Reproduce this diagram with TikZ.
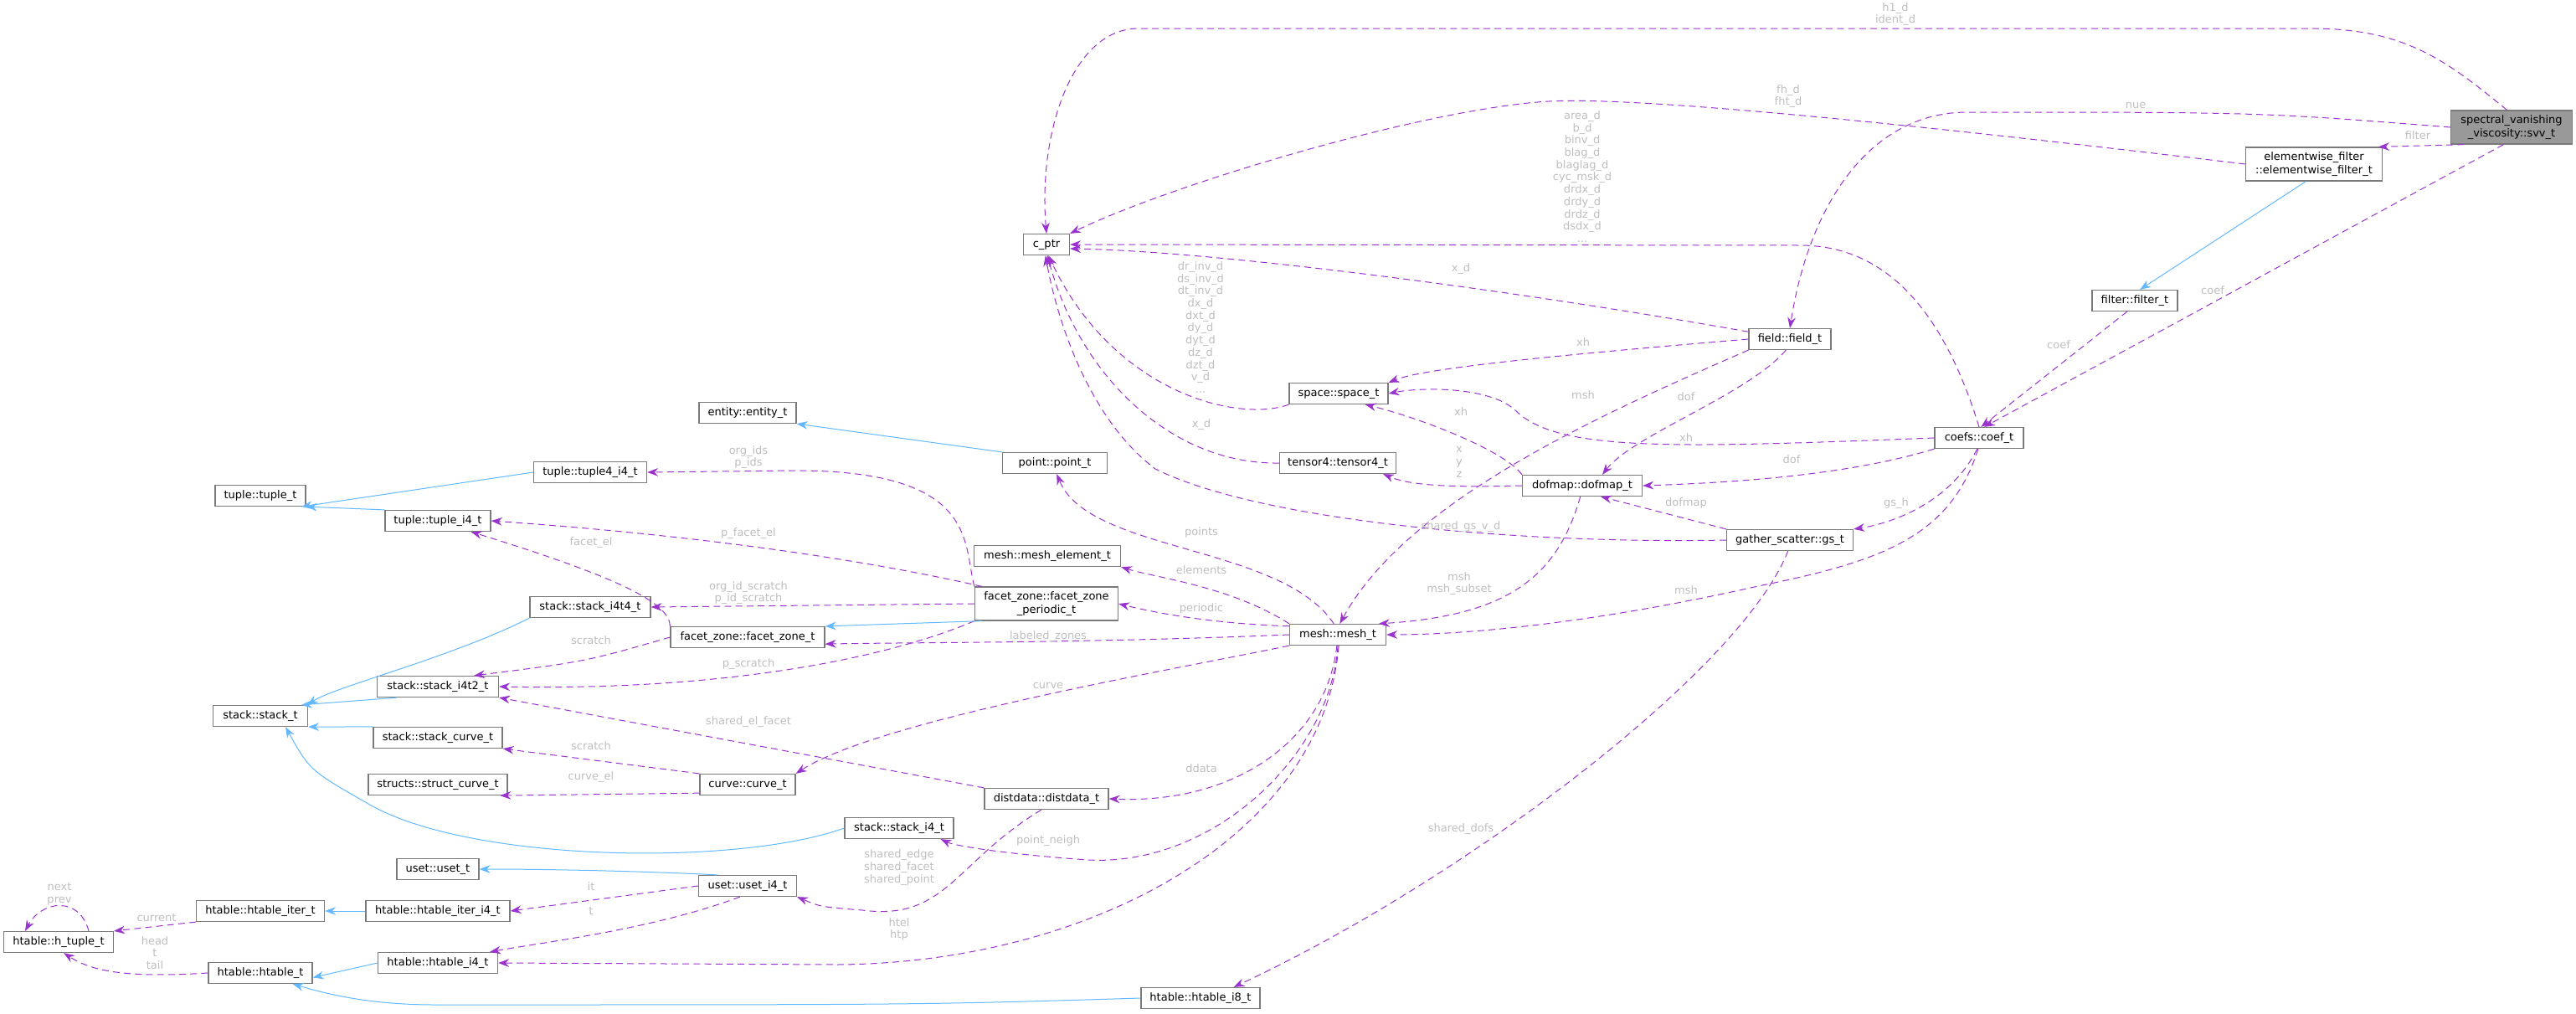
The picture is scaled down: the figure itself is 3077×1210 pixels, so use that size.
\documentclass[tikz,border=0pt]{standalone}
\usepackage{fontspec}
\setmainfont{DejaVu Sans}
\usetikzlibrary{arrows.meta}
\definecolor{dep}{HTML}{9A32CD}
\definecolor{inh}{HTML}{63B8FF}
\definecolor{lbl}{HTML}{BEBEBE}
\definecolor{bord}{HTML}{7A7A7A}
\begin{document}
\begin{tikzpicture}[x=0.5pt,y=-0.5pt,
  box/.style={draw=bord,line width=0.6pt,fill=white,inner sep=0pt,minimum height=12.5pt,align=center,font=\fontsize{6.5}{7.6}\selectfont},
  w/.style={minimum width=#1*0.5pt},
  dbl/.style={minimum height=20pt},
  dep/.style={draw=dep,line width=0.5pt,dash pattern=on 4pt off 2.6pt,-{Stealth[length=6.5pt,width=4.8pt,fill=dep]}},
  inh/.style={draw=inh,line width=0.5pt,-{Stealth[length=6.5pt,width=4.8pt,fill=inh]}},
  lb/.style={text=lbl,inner sep=0pt,align=center,font=\fontsize{6.5}{7.35}\selectfont}]
\useasboundingbox (0,0) rectangle (3077,1210);
% nodes
\node[box,w=145,dbl,fill=black!40] (svv) at (3000,152) {spectral\_vanishing\\\_viscosity::svv\_t};
\node[box,w=163,dbl] (ewf) at (2764,196) {elementwise\_filter\\::elementwise\_filter\_t};
\node[box,w=102] (filter) at (2550,359) {filter::filter\_t};
\node[box,w=106] (coef) at (2364,523) {coefs::coef\_t};
\node[box,w=55] (cptr) at (1250,292) {c\_ptr};
\node[box,w=98] (field) at (2138,405) {field::field\_t};
\node[box,w=118] (space) at (1599,470) {space::space\_t};
\node[box,w=139] (tensor) at (1598,553) {tensor4::tensor4\_t};
\node[box,w=143] (dofmap) at (1890,580) {dofmap::dofmap\_t};
\node[box,w=151] (gs) at (2138,645) {gather\_scatter::gs\_t};
\node[box,w=115] (mesh) at (1598,758) {mesh::mesh\_t};
\node[box,w=116] (entity) at (893,493) {entity::entity\_t};
\node[box,w=125] (point) at (1260,553) {point::point\_t};
\node[box,w=135] (tuplefour) at (705,564) {tuple::tuple4\_i4\_t};
\node[box,w=108] (tuple) at (311,592) {tuple::tuple\_t};
\node[box,w=126] (tuplei) at (523,622) {tuple::tuple\_i4\_t};
\node[box,w=175] (melem) at (1251,664) {mesh::mesh\_element\_t};
\node[box,w=171,dbl] (fzp) at (1250,721) {facet\_zone::facet\_zone\\\_periodic\_t};
\node[box,w=144] (sfour) at (705,725) {stack::stack\_i4t4\_t};
\node[box,w=184] (fz) at (893,761) {facet\_zone::facet\_zone\_t};
\node[box,w=145] (stwo) at (523,820) {stack::stack\_i4t2\_t};
\node[box,w=113] (stack) at (311,855) {stack::stack\_t};
\node[box,w=154] (scurve) at (523,881) {stack::stack\_curve\_t};
\node[box,w=166] (structc) at (523,937) {structs::struct\_curve\_t};
\node[box,w=114] (curve) at (893,937) {curve::curve\_t};
\node[box,w=148] (dist) at (1250,954) {distdata::distdata\_t};
\node[box,w=130] (si) at (1074,989) {stack::stack\_i4\_t};
\node[box,w=98] (uset) at (523,1038) {uset::uset\_t};
\node[box,w=117] (useti) at (893,1058) {uset::uset\_i4\_t};
\node[box,w=153] (hiter) at (311,1088) {htable::htable\_iter\_t};
\node[box,w=172] (hiteri) at (523,1088) {htable::htable\_iter\_i4\_t};
\node[box,w=131] (htuple) at (70,1125) {htable::h\_tuple\_t};
\node[box,w=143] (hti) at (523,1150) {htable::htable\_i4\_t};
\node[box,w=124] (ht) at (311,1162) {htable::htable\_t};
\node[box,w=142] (hteight) at (1434,1192) {htable::htable\_i8\_t};
% dependency edges
\draw[dep] (svv.105) .. controls (2920,70) and (2870,34) .. (2760,34) -- (1360,34) .. controls (1280,34) and (1240,160) .. (cptr.north);
\draw[dep] (ewf.west) .. controls (2300,150) and (1960,115) .. (1850,121) .. controls (1700,130) and (1400,220) .. (cptr.north east);
\draw[dep] (svv.west) .. controls (2700,134) .. (2350,134) .. controls (2230,134) and (2160,250) .. (field.north);
\draw[dep] (svv.200) -- (ewf.15);
\draw[dep] (svv.245) -- (coef.65);
\draw[dep] (filter.235) -- (coef.80);
\draw[dep] (coef.north) .. controls (2330,400) and (2270,293) .. (2150,293) -- (cptr.east);
\draw[dep] (field.170) .. controls (1800,345) and (1450,300) .. (cptr.-10);
\draw[dep] (field.west) .. controls (1850,425) and (1700,440) .. (space.north east);
\draw[dep] (field.south west) .. controls (1900,500) and (1680,600) .. (mesh.80);
\draw[dep] (field.-110) .. controls (2090,470) and (1950,520) .. ([xshift=12]dofmap.north);
\draw[dep] (space.south west) .. controls (1480,505) and (1330,470) .. (cptr.-80);
\draw[dep] (tensor.west) .. controls (1400,555) and (1290,450) .. (cptr.-85);
\draw[dep] (gs.west) .. controls (1800,650) and (1500,620) .. (1380,560) .. controls (1300,500) and (1262,380) .. (cptr.-95);
\draw[dep] (coef.west) .. controls (2000,535) and (1860,540) .. (1810,490) .. controls (1780,462) and (1700,462) .. (space.east);
\draw[dep] (coef.south west) .. controls (2200,570) and (2050,577) .. (dofmap.east);
\draw[dep] (coef.-100) .. controls (2330,600) and (2260,625) .. (gs.north east);
\draw[dep] (coef.-95) .. controls (2330,640) and (2250,670) .. (2100,700) .. controls (1900,745) and (1750,758) .. (mesh.east);
\draw[dep] (dofmap.north west) .. controls (1800,540) and (1700,500) .. ([xshift=-14]space.south east);
\draw[dep] (dofmap.west) .. controls (1720,583) and (1680,578) .. ([xshift=-8]tensor.south east);
\draw[dep] (dofmap.-100) .. controls (1860,690) and (1800,735) .. (mesh.15);
\draw[dep] (gs.north west) -- ([xshift=-25]dofmap.south east);
\draw[dep] (gs.-100) .. controls (2080,800) and (1750,1050) .. ([xshift=-16]hteight.north east);
\draw[dep] (mesh.110) .. controls (1530,650) and (1300,660) .. (point.-80);
\draw[dep] (mesh.north west) .. controls (1470,700) and (1380,690) .. (melem.south east);
\draw[dep] (mesh.170) .. controls (1450,745) and (1380,732) .. (fzp.east);
\draw[dep] (mesh.west) .. controls (1300,768) and (1100,767) .. (fz.-5);
\draw[dep] (mesh.south west) .. controls (1400,800) and (1050,860) .. (curve.north east);
\draw[dep] (mesh.-95) .. controls (1585,880) and (1480,960) .. (dist.east);
\draw[dep] (mesh.-90) .. controls (1590,900) and (1450,1035) .. (1300,1027) .. controls (1200,1020) and (1140,1010) .. ([xshift=-8]si.south east);
\draw[dep] (mesh.-85) .. controls (1580,1000) and (1300,1150) .. (1000,1152) -- (hti.east);
\draw[dep] (fzp.north west) .. controls (1150,650) and (1170,562) .. (950,562) -- (tuplefour.east);
\draw[dep] (fzp.165) .. controls (950,650) and (700,630) .. (tuplei.east);
\draw[dep] (fzp.west) -- (sfour.east);
\draw[dep] (fzp.south west) .. controls (1050,790) and (850,825) .. (stwo.east);
\draw[dep] (fz.north west) .. controls (800,720) and (740,690) .. ([xshift=-12]tuplei.south east);
\draw[dep] (fz.west) .. controls (700,790) .. ([xshift=-15]stwo.north east);
\draw[dep] (dist.north west) -- (stwo.south east);
\draw[dep] (dist.-115) .. controls (1140,1030) and (1130,1100) .. (1030,1087) .. controls (980,1083) .. (useti.south east);
\draw[dep] (curve.north west) -- (scurve.south east);
\draw[dep] (curve.-170) -- (structc.-10);
\draw[dep] (useti.west) -- (hiteri.east);
\draw[dep] (useti.-125) .. controls (780,1110) and (650,1125) .. ([xshift=-5]hti.north east);
\draw[dep] (hiter.south west) -- (htuple.north east);
\draw[dep] ([xshift=18]htuple.north) .. controls (95,1070) and (50,1075) .. ([xshift=-20]htuple.north);
\draw[dep] (ht.west) .. controls (150,1168) and (110,1160) .. (htuple.-65);
% inheritance
\draw[inh] (ewf.-115) -- (filter.65);
\draw[inh] (point.north west) -- (entity.south east);
\draw[inh] (tuplefour.west) -- (tuple.-15);
\draw[inh] (tuplei.north west) -- (tuple.south east);
\draw[inh] (fzp.195) -- (fz.north east);
\draw[inh] (sfour.south west) .. controls (540,785) and (400,820) .. ([xshift=28]stack.north);
\draw[inh] (stwo.-165) -- (stack.15);
\draw[inh] (scurve.north west) -- (stack.south east);
\draw[inh] (si.west) .. controls (880,1035) and (560,1030) .. (440,960) .. controls (370,920) .. ([xshift=15]stack.south);
\draw[inh] (useti.160) .. controls (760,1040) and (650,1038) .. (uset.east);
\draw[inh] (hiteri.west) -- (hiter.east);
\draw[inh] (hti.west) -- (ht.-5);
\draw[inh] (hteight.west) .. controls (1100,1200) .. (520,1200) .. controls (450,1200) and (400,1190) .. ([xshift=-12]ht.south east);
% labels
\node[lb] (l1) at (2264,17) {h1\_d\\ident\_d};
\node[lb] (l2) at (2136,115) {fh\_d\\fht\_d};
\node[lb] (l3) at (2551,126) {nue};
\node[lb] (l4) at (2888,162) {filter};
\node[lb] (l5) at (2643,347) {coef};
\node[lb] (l6) at (2459,412) {coef};
\node[lb] (l7) at (1890,211) {area\_d\\b\_d\\binv\_d\\blag\_d\\blaglag\_d\\cyc\_msk\_d\\drdx\_d\\drdy\_d\\drdz\_d\\dsdx\_d\\...};
\node[lb] (l8) at (1745,321) {x\_d};
\node[lb] (l9) at (1891,409) {xh};
\node[lb] (l10) at (1434,391) {dr\_inv\_d\\ds\_inv\_d\\dt\_inv\_d\\dx\_d\\dxt\_d\\dy\_d\\dyt\_d\\dz\_d\\dzt\_d\\v\_d\\...};
\node[lb] (l11) at (1891,472) {msh};
\node[lb] (l12) at (2014,474) {dof};
\node[lb] (l13) at (1745,492) {xh};
\node[lb] (l14) at (2014,523) {xh};
\node[lb] (l15) at (1743,552) {x\\y\\z};
\node[lb] (l16) at (2140,549) {dof};
\node[lb] (l17) at (2014,601) {dofmap};
\node[lb] (l18) at (2265,601) {gs\_h};
\node[lb] (l19) at (1745,629) {shared\_gs\_v\_d};
\node[lb] (l20) at (1435,507) {x\_d};
\node[lb] (l21) at (1435,636) {points};
\node[lb] (l22) at (1435,681) {elements};
\node[lb] (l23) at (1435,727) {periodic};
\node[lb] (l24) at (1743,697) {msh\\msh\_subset};
\node[lb] (l25) at (2014,705) {msh};
\node[lb] (l26) at (1745,990) {shared\_dofs};
\node[lb] (l27) at (894,546) {org\_ids\\p\_ids};
\node[lb] (l28) at (894,637) {p\_facet\_el};
\node[lb] (l29) at (706,648) {facet\_el};
\node[lb] (l30) at (894,708) {org\_id\_scratch\\p\_id\_scratch};
\node[lb] (l31) at (706,765) {scratch};
\node[lb] (l32) at (894,793) {p\_scratch};
\node[lb] (l33) at (1252,760) {labeled\_zones};
\node[lb] (l34) at (1252,819) {curve};
\node[lb] (l35) at (894,862) {shared\_el\_facet};
\node[lb] (l36) at (706,891) {scratch};
\node[lb] (l37) at (706,928) {curve\_el};
\node[lb] (l38) at (1435,918) {ddata};
\node[lb] (l39) at (1252,1004) {point\_neigh};
\node[lb] (l40) at (1074,1036) {shared\_edge\\shared\_facet\\shared\_point};
\node[lb] (l41) at (706,1059) {it};
\node[lb] (l42) at (706,1088) {t};
\node[lb] (l43) at (71,1068) {next\\prev};
\node[lb] (l44) at (187,1096) {current};
\node[lb] (l45) at (185,1138) {head\\t\\tail};
\node[lb] (l46) at (1074,1110) {htel\\htp};
\end{tikzpicture}
\end{document}
